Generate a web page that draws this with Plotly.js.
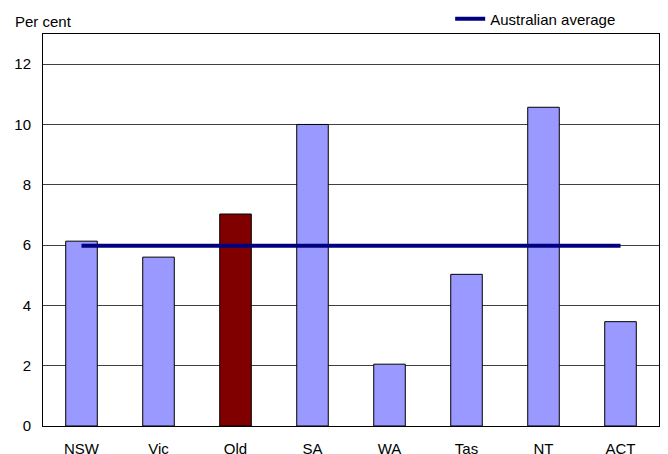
<!DOCTYPE html>
<html>
<head>
<meta charset="utf-8">
<script src="https://cdn.plot.ly/plotly-3.0.1.min.js"></script>
<style>html,body{margin:0;padding:0;background:#fff;}#chart{width:668px;height:454px;}</style>
</head>
<body>
<div id="chart"></div>
<script>
const states = ["NSW", "Vic", "Qld", "SA", "WA", "Tas", "NT", "ACT"];
const values = [6.13, 5.6, 7.03, 10.0, 2.05, 5.03, 10.57, 3.46];
const australianAverage = [5.98, 5.98, 5.98, 5.98, 5.98, 5.98, 5.98, 5.98];
const yTicks = [0, 2, 4, 6, 8, 10, 12];

const barColors = states.map(s => s === "Qld" ? "#800000" : "#9999FF");

const bars = {
  type: "bar",
  x: states,
  y: values,
  marker: {color: barColors, line: {color: "#000000", width: 1}},
  showlegend: false,
  hoverinfo: "x+y"
};
const avg = {
  type: "scatter",
  mode: "lines",
  x: states,
  y: australianAverage,
  name: "Australian average",
  line: {color: "#000080", width: 4},
  showlegend: true
};

const font = {family: "Liberation Sans, Arial, sans-serif", size: 15, color: "#000000"};

const layout = {
  width: 668,
  height: 454,
  margin: {l: 43, r: 9, t: 34, b: 28, autoexpand: false},
  paper_bgcolor: "#ffffff",
  plot_bgcolor: "#ffffff",
  font: font,
  bargap: 0.59,
  xaxis: {
    type: "category",
    showgrid: false,
    showline: true,
    linecolor: "#000000",
    linewidth: 1,
    mirror: true,
    ticks: "",
    ticklabelstandoff: 9,
    tickfont: font,
    fixedrange: true
  },
  yaxis: {
    range: [0, 13],
    tickvals: yTicks,
    ticktext: yTicks.map(String),
    showgrid: true,
    gridcolor: "#404040",
    gridwidth: 1,
    showline: true,
    linecolor: "#000000",
    linewidth: 1,
    mirror: true,
    ticks: "",
    ticklabelstandoff: 8,
    zeroline: false,
    tickfont: font,
    fixedrange: true
  },
  legend: {
    x: 0.661,
    xanchor: "left",
    y: 1.038,
    yanchor: "middle",
    bgcolor: "rgba(0,0,0,0)",
    borderwidth: 0,
    font: font,
    orientation: "h"
  },
  annotations: [{
    text: "Per cent",
    xref: "paper", yref: "paper",
    x: -0.049, xanchor: "left",
    y: 1.033, yanchor: "middle",
    showarrow: false,
    font: font
  }]
};

Plotly.newPlot("chart", [bars, avg], layout, {displayModeBar: false, staticPlot: true});
</script>
</body>
</html>
